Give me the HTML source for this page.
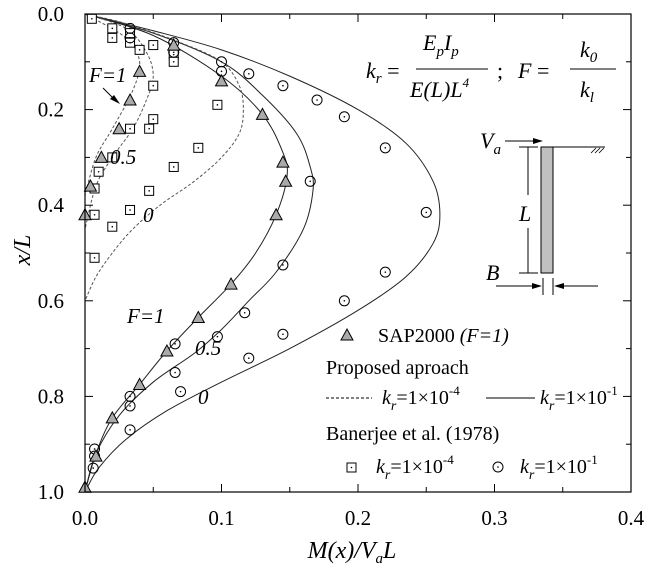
<!DOCTYPE html>
<html><head><meta charset="utf-8"><style>
body{margin:0;background:#fff}
svg, svg text{font-family:"Liberation Serif","DejaVu Serif",serif}
.it{font-style:italic}
</style></head><body>
<svg id="chart" width="655" height="573" viewBox="0 0 655 573" xmlns="http://www.w3.org/2000/svg" font-family="Liberation Serif, serif">
<g id="marks"></g>
<g id="axes"></g>
<text class="it" font-size="24" transform="translate(30,250) rotate(-90)" text-anchor="middle">x/L</text>
<text class="it" font-size="24" x="352" y="558" text-anchor="middle">M(x)/V<tspan font-size="15" dy="5">a</tspan><tspan dy="-5">L</tspan></text>
<g class="it" font-size="22">
<text x="366" y="78">k<tspan font-size="15" dy="5">r</tspan><tspan dy="-5" font-style="normal"> =</tspan></text>
<text x="423" y="50">E<tspan font-size="15" dy="6">p</tspan><tspan dy="-6">I</tspan><tspan font-size="15" dy="6">p</tspan></text>
<line x1="416" y1="69" x2="488" y2="69" stroke="#000"/>
<text x="410" y="97">E(L)L<tspan font-size="13" dy="-10">4</tspan></text>
<text x="497" y="78" font-style="normal">;</text>
<text x="518" y="78">F<tspan font-style="normal"> =</tspan></text>
<text x="580" y="57">k<tspan font-size="15" dy="5">0</tspan></text>
<line x1="570" y1="69" x2="616" y2="69" stroke="#000"/>
<text x="580" y="97">k<tspan font-size="15" dy="5">l</tspan></text>
</g>
<g>
<rect x="541" y="147" width="12" height="126" fill="#c0c0c0" stroke="#000"/>
<text class="it" font-size="22" x="480" y="148">V<tspan font-size="15" dy="6">a</tspan></text>
<line x1="505" y1="141" x2="538" y2="141" stroke="#000"/><path d="M543 141 L533 138 L533 144Z"/>
<line x1="553" y1="147" x2="605" y2="147" stroke="#000"/>
<path d="M591 153 L596 148 M595 153 L600 148 M599 153 L604 148" stroke="#000" stroke-width="0.8"/>
<line x1="528" y1="147" x2="528" y2="195" stroke="#000"/><line x1="528" y1="228" x2="528" y2="273" stroke="#000"/>
<line x1="519" y1="147" x2="538" y2="147" stroke="#000"/><line x1="519" y1="273" x2="538" y2="273" stroke="#000"/>
<text class="it" font-size="22" x="519" y="221">L</text>
<text class="it" font-size="22" x="486" y="280">B</text>
<line x1="496" y1="286" x2="536" y2="286" stroke="#000"/><path d="M542 286 L532 283 L532 289Z"/>
<line x1="560" y1="286" x2="598" y2="286" stroke="#000"/><path d="M554 286 L564 283 L564 289Z"/>
<line x1="543" y1="278" x2="543" y2="295" stroke="#000"/><line x1="553" y1="278" x2="553" y2="295" stroke="#000"/>
</g>
<g class="it" font-size="21">
<text x="89" y="82">F=1</text>
<line x1="103" y1="88" x2="115" y2="100" stroke="#000"/><path d="M120 104 L110 99 L114 95Z"/>
<text x="110" y="164">0.5</text>
<text x="143" y="222">0</text>
<text x="127" y="323">F=1</text>
<text x="195" y="355">0.5</text>
<text x="198" y="404">0</text>
</g>
<g font-size="20">
<path d="M347 329 L353 340 L341 340Z" fill="#aaa" stroke="#000"/>
<text x="378" y="342">SAP2000 <tspan class="it">(F=1)</tspan></text>
<text x="326" y="374">Proposed aproach</text>
<line x1="326" y1="398" x2="372" y2="398" stroke="#000" stroke-dasharray="3,2"/>
<text x="382" y="404" class="it">k<tspan font-size="14" dy="6">r</tspan><tspan dy="-6" font-style="normal">=1×10</tspan><tspan font-size="13" dy="-9" font-style="normal">-4</tspan></text>
<line x1="486" y1="398" x2="535" y2="398" stroke="#000"/>
<text x="540" y="404" class="it">k<tspan font-size="14" dy="6">r</tspan><tspan dy="-6" font-style="normal">=1×10</tspan><tspan font-size="13" dy="-9" font-style="normal">-1</tspan></text>
<text x="326" y="440">Banerjee et al. (1978)</text>
<rect x="347" y="463" width="9" height="9" fill="none" stroke="#000"/><circle cx="351.5" cy="467.5" r="0.8"/>
<text x="376" y="473" class="it">k<tspan font-size="14" dy="6">r</tspan><tspan dy="-6" font-style="normal">=1×10</tspan><tspan font-size="13" dy="-9" font-style="normal">-4</tspan></text>
<circle cx="498" cy="467" r="5" fill="none" stroke="#000"/><circle cx="498" cy="467" r="0.8"/>
<text x="520" y="473" class="it">k<tspan font-size="14" dy="6">r</tspan><tspan dy="-6" font-style="normal">=1×10</tspan><tspan font-size="13" dy="-9" font-style="normal">-1</tspan></text>
</g>
</svg>
<script>
// data arrays
const xTicks=[0.0,0.1,0.2,0.3,0.4];
const yTicks=[0.0,0.2,0.4,0.6,0.8,1.0];
// solid curves (kr=1e-1): [M, x/L]
const solidF0M=[0,0.05,0.1,0.15,0.2,0.235,0.255,0.26,0.255,0.235,0.2,0.15,0.1,0.06,0.03,0.01,0];
const solidF0X=[0,0.035,0.075,0.13,0.2,0.27,0.35,0.42,0.48,0.55,0.62,0.7,0.77,0.83,0.89,0.95,1];
const solidF05M=[0,0.05,0.1,0.13,0.155,0.165,0.167,0.16,0.14,0.12,0.1,0.08,0.05,0.025,0.008,0];
const solidF05X=[0,0.04,0.1,0.17,0.25,0.32,0.37,0.45,0.54,0.6,0.66,0.71,0.77,0.84,0.92,1];
const solidF1M=[0,0.05,0.1,0.13,0.145,0.148,0.14,0.125,0.107,0.083,0.06,0.04,0.02,0.008,0];
const solidF1X=[0,0.045,0.13,0.21,0.29,0.34,0.42,0.5,0.565,0.635,0.705,0.775,0.845,0.92,1];
// dashed curves (kr=1e-4)
const dashF0M=[0,0.03,0.07,0.1,0.113,0.116,0.113,0.1,0.08,0.055,0.035,0.02,0.008,0];
const dashF0X=[0,0.02,0.06,0.1,0.15,0.2,0.25,0.3,0.35,0.4,0.45,0.5,0.55,0.6];
const dashF05M=[0,0.03,0.045,0.05,0.045,0.035,0.02,0.008,0];
const dashF05X=[0,0.03,0.08,0.13,0.18,0.24,0.3,0.36,0.45];
const dashF1M=[0,0.03,0.04,0.035,0.02,0.008,0];
const dashF1X=[0,0.05,0.1,0.16,0.24,0.3,0.38];
// SAP2000 triangles
const triM=[0.065,0.04,0.033,0.025,0.012,0.004,0,0.1,0.13,0.145,0.147,0.14,0.107,0.083,0.06,0.04,0.02,0.008,0];
const triX=[0.065,0.12,0.18,0.24,0.3,0.36,0.42,0.14,0.21,0.31,0.35,0.42,0.565,0.635,0.705,0.775,0.845,0.925,0.99];
// Banerjee squares (kr=1e-4)
const sqM=[0.005,0.02,0.02,0.033,0.033,0.04,0.05,0.065,0.065,0.05,0.05,0.047,0.033,0.02,0.01,0.007,0.007,0.097,0.083,0.065,0.047,0.033,0.02,0.007];
const sqX=[0.01,0.03,0.05,0.04,0.06,0.075,0.065,0.085,0.1,0.15,0.22,0.24,0.24,0.3,0.33,0.365,0.42,0.19,0.28,0.32,0.37,0.41,0.445,0.51];
// Banerjee circles (kr=1e-1)
const ciM=[0.033,0.033,0.065,0.065,0.1,0.1,0.12,0.145,0.17,0.19,0.22,0.25,0.22,0.19,0.145,0.12,0.07,0.033,0.006,0.165,0.145,0.117,0.097,0.066,0.033,0.007,0.033,0.066,0.007];
const ciX=[0.03,0.05,0.06,0.08,0.1,0.12,0.125,0.15,0.18,0.215,0.28,0.415,0.54,0.6,0.67,0.72,0.79,0.87,0.95,0.35,0.525,0.625,0.675,0.75,0.82,0.925,0.8,0.69,0.91];

const X0=85,X1=631,Y0=14,Y1=492;
const sx=v=>X0+v/0.4*(X1-X0);
const sy=v=>Y0+v*(Y1-Y0);
const NS='http://www.w3.org/2000/svg';
const marks=document.getElementById('marks'), axes=document.getElementById('axes');
function mk(tag,attrs,parent){const e=document.createElementNS(NS,tag);for(const k in attrs)e.setAttribute(k,attrs[k]);parent.appendChild(e);return e;}

function smooth(M,X){const p=M.map((m,i)=>[sx(m),sy(X[i])]);let d='M'+p[0][0]+' '+p[0][1];
 for(let i=0;i<p.length-1;i++){const a=p[i-1]||p[i],b=p[i],c=p[i+1],e=p[i+2]||c;
  d+=` C${b[0]+(c[0]-a[0])/6} ${b[1]+(c[1]-a[1])/6} ${c[0]-(e[0]-b[0])/6} ${c[1]-(e[1]-b[1])/6} ${c[0]} ${c[1]}`;}return d;}
const curves=[[solidF0M,solidF0X,false,'solid-curve-f0'],[solidF05M,solidF05X,false,'solid-curve-f05'],[solidF1M,solidF1X,false,'solid-curve-f1'],
[dashF0M,dashF0X,true,'dashed-curve-f0'],[dashF05M,dashF05X,true,'dashed-curve-f05'],[dashF1M,dashF1X,true,'dashed-curve-f1']];
curves.forEach(c=>{const p=mk('path',{d:smooth(c[0],c[1]),fill:'none',stroke:c[2]?'#555':'#222','stroke-width':1,'stroke-dasharray':c[2]?'3,2':'none'},marks);

});
sqM.forEach((m,i)=>{const x=sx(m),y=sy(sqX[i]);const r=mk('rect',{x:x-4.5,y:y-4.5,width:9,height:9,fill:'#fff',stroke:'#000'},marks);


mk('circle',{cx:x,cy:y,r:0.8},marks);});
ciM.forEach((m,i)=>{const x=sx(m),y=sy(ciX[i]);const c=mk('circle',{cx:x,cy:y,r:5,fill:'none',stroke:'#000'},marks);


mk('circle',{cx:x,cy:y,r:0.8},marks);});
triM.forEach((m,i)=>{const x=sx(m),y=sy(triX[i]);const t=mk('path',{d:`M${x} ${y-6} L${x+6} ${y+5} L${x-6} ${y+5}Z`,fill:'#aaa',stroke:'#000'},marks);

});

const frame=mk('rect',{x:X0,y:Y0,width:X1-X0,height:Y1-Y0,fill:'none',stroke:'#000','stroke-width':1.2},axes);


for(let v=0;v<=0.4001;v+=0.05){const x=sx(v),L=Math.abs(v*10-Math.round(v*10))<1e-6?8:5;
 mk('line',{x1:x,y1:Y1,x2:x,y2:Y1-L,stroke:'#000'},axes);mk('line',{x1:x,y1:Y0,x2:x,y2:Y0+L,stroke:'#000'},axes);}
for(let v=0;v<=1.0001;v+=0.1){const y=sy(v),L=Math.abs(v*5-Math.round(v*5))<1e-6?8:5;
 mk('line',{x1:X0,y1:y,x2:X0+L,y2:y,stroke:'#000'},axes);mk('line',{x1:X1,y1:y,x2:X1-L,y2:y,stroke:'#000'},axes);}
xTicks.forEach(v=>{const t=mk('text',{x:sx(v),y:525,'text-anchor':'middle','font-size':21},axes);t.textContent=v.toFixed(1);

});
yTicks.forEach(v=>{const t=mk('text',{x:64,y:sy(v)+7,'text-anchor':'end','font-size':21},axes);t.textContent=v.toFixed(1);

});
</script>
</body></html>
